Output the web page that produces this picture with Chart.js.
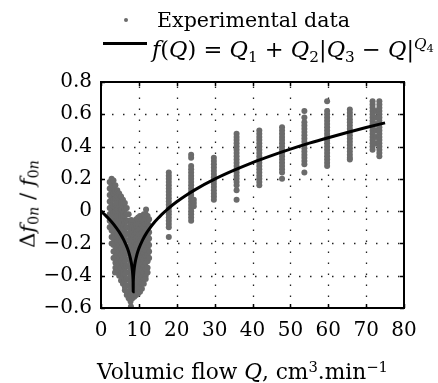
<!DOCTYPE html>
<html><head><meta charset="utf-8">
<script src="https://cdn.jsdelivr.net/npm/chart.js@4/dist/chart.umd.min.js"></script>
<style>
html,body{margin:0;padding:0;background:#fff;overflow:hidden}
#wrap{position:relative;width:438px;height:383px;overflow:hidden}
canvas{position:absolute;left:0;top:0}
.t{position:absolute;font-family:"DejaVu Serif",serif;color:#000;white-space:nowrap}
.t sub,.t sup{font-size:0.68em;line-height:0;position:relative;vertical-align:baseline}
.t sub{top:0.3em}
.t sup{top:-0.5em}
.t sup sub{top:0.25em;font-size:0.75em}
</style></head>
<body><div id="wrap"><canvas id="c" width="438" height="383"></canvas>
<div style="position:absolute;left:124px;top:18px;width:4px;height:4px;border-radius:50%;background:#6b6b6b"></div>
<div class="t" style="left:157px;top:10px;font-size:20.6px;line-height:21px">Experimental data</div>
<div style="position:absolute;left:103px;top:42px;width:44px;height:3px;background:#000"></div>
<div class="t" style="left:152px;top:38px;font-size:22.5px;line-height:22px"><i>f</i>(<i>Q</i>) = <i>Q</i><sub>1</sub> + <i>Q</i><sub>2</sub>|<i>Q</i><sub>3</sub> − <i>Q</i>|<sup><i>Q</i><sub>4</sub></sup></div>
<div class="t" style="left:28px;top:204px;font-size:21px;line-height:21px;transform:translate(-50%,-50%) rotate(-90deg)">Δ<i>f</i><sub>0<i>n</i></sub> / <i>f</i><sub>0<i>n</i></sub></div>
<div class="t" style="left:97px;top:361px;font-size:21.7px;line-height:21px">Volumic flow <i>Q</i>, cm<sup>3</sup>.min<sup>−1</sup></div>
</div>
<script>
// Fitted curve f(Q)
const fitQ = [0,1,2,3,4,5,6,7,7.5,8,8.2,8.3,8.4,8.45,8.48,8.5,8.52,8.55,8.6,8.7,8.8,9,9.5,10,11,12,13,14,15,16,17,18,20,22,25,30,35,40,45,50,55,60,65,70,75];
const fitValues = [0.000,-0.022,-0.046,-0.072,-0.102,-0.136,-0.178,-0.232,-0.268,-0.319,-0.349,-0.370,-0.399,-0.421,-0.443,-0.500,-0.443,-0.421,-0.399,-0.370,-0.349,-0.319,-0.268,-0.232,-0.178,-0.136,-0.102,-0.072,-0.046,-0.022,0.000,0.021,0.058,0.091,0.135,0.198,0.252,0.301,0.344,0.384,0.421,0.455,0.487,0.518,0.547];

// Experimental data: flow value of each column and the readings in it
const clusterQ = [2.3,2.8,3.3,3.8,4.3,4.8,5.3,5.8,6.3,6.8,7.3,7.8,8.3,8.8,9.3,9.8,10.3,10.8,11.3,11.8,12.3,12.7,
  17.9,23.8,24.5,29.8,35.8,41.8,47.8,53.7,59.7,65.7,71.7,72.6,73.5];
const clusterValues = [
  [0.18,0.14,0.10,0.06,0.02,-0.02,-0.06,-0.10],
  [0.20,0.16,0.12,0.08,0.04,0.00,-0.04,-0.08,-0.12,-0.16,-0.20],
  [0.19,0.15,0.11,0.07,0.03,-0.01,-0.05,-0.09,-0.13,-0.17,-0.21,-0.25,-0.29],
  [0.16,0.12,0.08,0.04,0.00,-0.04,-0.08,-0.12,-0.16,-0.20,-0.24,-0.28,-0.32,-0.35],
  [0.13,0.09,0.05,0.01,-0.03,-0.07,-0.11,-0.15,-0.19,-0.23,-0.27,-0.31,-0.35,-0.38],
  [0.11,0.07,0.03,-0.01,-0.05,-0.09,-0.13,-0.17,-0.21,-0.25,-0.29,-0.33,-0.37,-0.40],
  [0.09,0.05,0.01,-0.03,-0.07,-0.11,-0.15,-0.19,-0.23,-0.27,-0.31,-0.35,-0.39,-0.43],
  [0.07,0.03,-0.01,-0.05,-0.09,-0.13,-0.17,-0.21,-0.25,-0.29,-0.33,-0.37,-0.41,-0.45],
  [0.05,0.01,-0.03,-0.07,-0.11,-0.15,-0.19,-0.23,-0.27,-0.31,-0.35,-0.39,-0.43,-0.47,-0.49],
  [0.02,-0.02,-0.06,-0.10,-0.14,-0.18,-0.22,-0.26,-0.30,-0.34,-0.38,-0.42,-0.46,-0.50,-0.52],
  [-0.02,-0.06,-0.10,-0.14,-0.18,-0.22,-0.26,-0.30,-0.34,-0.38,-0.42,-0.46,-0.50,-0.54],
  [-0.08,-0.12,-0.16,-0.20,-0.24,-0.28,-0.32,-0.36,-0.40,-0.44,-0.48,-0.52,-0.56],
  [-0.10,-0.14,-0.18,-0.22,-0.26,-0.30,-0.34,-0.38,-0.42,-0.46,-0.50,-0.54],
  [-0.07,-0.11,-0.15,-0.19,-0.23,-0.27,-0.31,-0.35,-0.39,-0.43,-0.47,-0.51,-0.53],
  [-0.05,-0.09,-0.13,-0.17,-0.21,-0.25,-0.29,-0.33,-0.37,-0.41,-0.45,-0.49,-0.52],
  [-0.04,-0.08,-0.12,-0.16,-0.20,-0.24,-0.28,-0.32,-0.36,-0.40,-0.44,-0.48,-0.51],
  [-0.03,-0.07,-0.11,-0.15,-0.19,-0.23,-0.27,-0.31,-0.35,-0.39,-0.43,-0.47,-0.50],
  [-0.03,-0.05,-0.09,-0.13,-0.17,-0.21,-0.25,-0.29,-0.33,-0.37,-0.41,-0.45,-0.48],
  [-0.02,-0.06,-0.10,-0.14,-0.18,-0.22,-0.26,-0.30,-0.34,-0.38,-0.42,-0.45],
  [-0.02,-0.04,-0.08,-0.12,-0.16,-0.20,-0.24,-0.28,-0.32,-0.36,-0.40,-0.42],
  [-0.03,-0.07,-0.11,-0.15,-0.19,-0.23,-0.27,-0.31,-0.35,-0.38],
  [-0.05,-0.09,-0.13,-0.17,-0.21,-0.25,-0.29],
  [0.24,0.22,0.20,0.18,0.16,0.14,0.12,0.10,0.08,0.06,0.04,0.02,0.00,-0.02,-0.04,-0.06,-0.08,-0.10,-0.16],
  [0.35,0.33,0.28,0.26,0.24,0.22,0.20,0.18,0.16,0.14,0.12,0.10,0.08,0.06,0.04,0.02,0.00,-0.02,-0.04,-0.06],
  [0.07,0.05,0.03],
  [0.33,0.31,0.29,0.27,0.25,0.23,0.21,0.19,0.17,0.15,0.13,0.11,0.09,0.07],
  [0.48,0.46,0.44,0.42,0.40,0.38,0.36,0.34,0.32,0.30,0.28,0.26,0.24,0.22,0.20,0.18,0.16,0.13,0.07],
  [0.50,0.48,0.46,0.44,0.42,0.40,0.38,0.36,0.34,0.32,0.30,0.28,0.26,0.24,0.22,0.20,0.18,0.16],
  [0.52,0.50,0.48,0.46,0.44,0.42,0.40,0.38,0.36,0.34,0.32,0.30,0.28,0.26,0.24,0.20],
  [0.62,0.58,0.55,0.53,0.51,0.49,0.47,0.45,0.43,0.41,0.39,0.37,0.35,0.33,0.31,0.29,0.24],
  [0.68,0.62,0.60,0.58,0.56,0.54,0.52,0.50,0.48,0.46,0.44,0.42,0.40,0.38,0.36,0.34,0.32,0.30,0.28],
  [0.63,0.61,0.59,0.57,0.55,0.53,0.51,0.49,0.47,0.45,0.43,0.41,0.39,0.37,0.35,0.33,0.32],
  [0.68,0.66,0.64,0.62,0.60,0.58,0.56,0.54,0.52,0.50,0.48,0.46,0.44,0.42,0.40,0.38],
  [0.62,0.58,0.54,0.50,0.46,0.42],
  [0.68,0.66,0.64,0.62,0.60,0.58,0.56,0.54,0.52,0.50,0.48,0.46,0.44,0.42,0.40,0.38,0.36,0.34]
];
const outlierQ = [3.7, 8.0, 11.9, 7.9];
const outlierValues = [-0.38, -0.055, 0.01, -0.59];

const xTickLabels = [0,10,20,30,40,50,60,70,80];
const yTickLabels = [-0.6,-0.4,-0.2,0,0.2,0.4,0.6,0.8];

const fitPoints = fitQ.map((q,i)=>({x:q,y:fitValues[i]}));
const expPoints = [];
clusterQ.forEach((q,i)=>clusterValues[i].forEach(v=>expPoints.push({x:q,y:v})));
outlierQ.forEach((q,i)=>expPoints.push({x:q,y:outlierValues[i]}));

const fmt = v => v < 0 ? '\u2212' + String(Math.abs(v)) : String(v);

const framePlugin = {
  id:'frame',
  beforeDatasetsDraw(chart){
    const {ctx, chartArea:a, scales:{x,y}} = chart;
    ctx.save();
    ctx.strokeStyle = '#222'; ctx.lineWidth = 1.3; ctx.setLineDash([1.5,9.5]);
    xTickLabels.slice(1,-1).forEach(v=>{const px=Math.round(x.getPixelForValue(v))+0.5;ctx.beginPath();ctx.moveTo(px,a.bottom);ctx.lineTo(px,a.top);ctx.stroke();});
    yTickLabels.slice(1,-1).forEach(v=>{const py=Math.round(y.getPixelForValue(v))+0.5;ctx.beginPath();ctx.moveTo(a.left,py);ctx.lineTo(a.right,py);ctx.stroke();});
    ctx.restore();
  },
  afterDatasetsDraw(chart){
    const {ctx, chartArea:a, scales:{x,y}} = chart;
    ctx.save();
    ctx.strokeStyle = '#000'; ctx.lineWidth = 1.5; ctx.setLineDash([]);
    const tl = 4;
    xTickLabels.forEach(v=>{const px=Math.round(x.getPixelForValue(v))+0.5;ctx.beginPath();ctx.moveTo(px,a.bottom);ctx.lineTo(px,a.bottom-tl);ctx.moveTo(px,a.top);ctx.lineTo(px,a.top+tl);ctx.stroke();});
    yTickLabels.forEach(v=>{const py=Math.round(y.getPixelForValue(v))+0.5;ctx.beginPath();ctx.moveTo(a.left,py);ctx.lineTo(a.left+tl,py);ctx.moveTo(a.right,py);ctx.lineTo(a.right-tl,py);ctx.stroke();});
    ctx.lineWidth = 2;
    ctx.strokeRect(a.left, a.top, a.right-a.left, a.bottom-a.top);
    ctx.restore();
  }
};

new Chart(document.getElementById('c'), {
  type:'scatter',
  data:{datasets:[
    {type:'line', label:'fit', data:fitPoints, borderColor:'#000', borderWidth:3, pointRadius:0, cubicInterpolationMode:'monotone', fill:false, order:0},
    {type:'scatter', label:'Experimental data', data:expPoints, backgroundColor:'#6b6b6b', borderWidth:0, pointRadius:3, order:1}
  ]},
  options:{
    responsive:false, animation:false, devicePixelRatio:1, events:[],
    layout:{padding:{top:82,right:34,bottom:0,left:0}},
    plugins:{legend:{display:false}, tooltip:{enabled:false}},
    scales:{
      x:{type:'linear', min:0, max:80,
        afterBuildTicks:s=>{s.ticks = xTickLabels.map(v=>({value:v}));},
        afterFit:s=>{s.height = 75;},
        grid:{display:false, drawTicks:false}, border:{display:false},
        ticks:{padding:11, color:'#000', font:{family:'"DejaVu Serif"', size:20}, callback:fmt, maxRotation:0, autoSkip:false}},
      y:{type:'linear', min:-0.6, max:0.8,
        afterBuildTicks:s=>{s.ticks = yTickLabels.map(v=>({value:v}));},
        afterFit:s=>{s.width = 101;},
        grid:{display:false, drawTicks:false}, border:{display:false},
        ticks:{padding:9, color:'#000', font:{family:'"DejaVu Serif"', size:20}, callback:fmt, autoSkip:false}}
    }
  },
  plugins:[framePlugin]
});
</script>
</body></html>
